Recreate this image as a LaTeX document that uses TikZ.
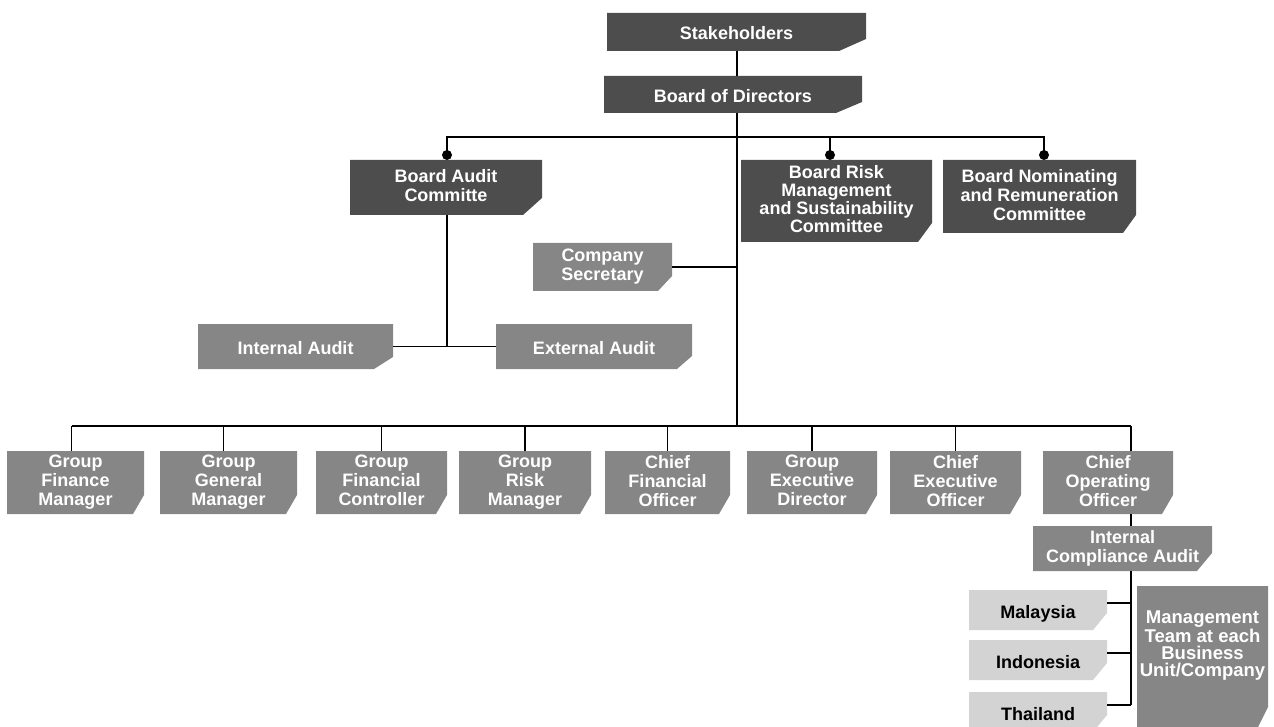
\documentclass[tikz,border=0pt]{standalone}
\usepackage{fontspec}
\setmainfont{Liberation Sans}
\usetikzlibrary{backgrounds}
\definecolor{darkbox}{HTML}{4D4D4D}
\definecolor{midbox}{HTML}{868686}
\definecolor{lightbox}{HTML}{D3D3D3}
\newcommand\bx[7][]{\node[box,#1,minimum width={#5pt-#3pt},minimum height={#6pt-#4pt}] (#2) at ({(#3+#5)/2},{(#4+#6)/2}) {#7};}
\newcommand\chf[4]{\fill[#2] (#1.north west) -- (#1.north east) -- ([yshift=#4]#1.south east) -- ([xshift=-#3]#1.south east) -- (#1.south west) -- cycle;}
\tikzset{
  box/.style={inner sep=0pt,outer sep=0pt,align=center,text=white,font=\bfseries\fontsize{18}{19}\selectfont,
    execute at begin node={\rule{0pt}{20pt}}, execute at end node={\rule[-4pt]{0pt}{4pt}}},
  ctry/.style={text=black},
  conn/.style={line width=1.2pt,black},
  dot/.style={circle,fill=black,inner sep=0pt,minimum size=10pt}
}
\begin{document}
\begin{tikzpicture}[x=1pt,y=-1pt]
\useasboundingbox (0,0) rectangle (1274,727);
\clip (0,0) rectangle (1274,727);
% nodes
\bx{stake}{607}{13}{866}{51}{Stakeholders}
\bx{board}{604}{76}{862}{113}{Board of Directors}
\bx{bac}{350}{160}{542}{215}{Board Audit\\Committe}
\bx[font=\bfseries\fontsize{18}{18.3}\selectfont]{brm}{741}{160}{932}{242}{Board Risk\\Management\\and Sustainability\\Committee}
\bx{bnr}{943}{160}{1136}{233}{Board Nominating\\and Remuneration\\Committee}
\bx{cosec}{533}{243}{672}{291}{Company\\Secretary}
\bx{ia}{198}{324}{393}{369}{Internal Audit}
\bx{ea}{496}{324}{692}{369}{External Audit}
\bx{gfm}{7}{451}{144}{514}{Group\\Finance\\Manager}
\bx{ggm}{160}{451}{297}{514}{Group\\General\\Manager}
\bx{gfc}{316}{451}{447}{514}{Group\\Financial\\Controller}
\bx{grm}{459}{451}{591}{514}{Group\\Risk\\Manager}
\bx{cfo}{605}{451}{730}{514}{Chief\\Financial\\Officer}
\bx{ged}{747}{451}{877}{514}{Group\\Executive\\Director}
\bx{ceo}{890}{451}{1021}{514}{Chief\\Executive\\Officer}
\bx{coo}{1043}{451}{1173}{514}{Chief\\Operating\\Officer}
\bx{ica}{1033}{526}{1212}{571}{Internal\\Compliance Audit}
\bx[ctry]{mal}{969}{590}{1107}{630}{Malaysia}
\bx[ctry]{ind}{969}{640}{1107}{680}{Indonesia}
\bx[ctry]{tha}{969}{692}{1107}{732}{Thailand}
\bx[font=\bfseries\fontsize{18.5}{17}\selectfont]{mgmt}{1137}{586}{1268}{705}{Management\\Team at each\\Business\\Unit/Company}
% shapes behind text
\begin{scope}[on background layer]
\chf{stake}{darkbox}{27pt}{12pt}
\chf{board}{darkbox}{26pt}{11pt}
\chf{bac}{darkbox}{19pt}{17pt}
\chf{brm}{darkbox}{14pt}{19pt}
\chf{bnr}{darkbox}{13pt}{18pt}
\chf{cosec}{midbox}{14pt}{15pt}
\chf{ia}{midbox}{19pt}{12pt}
\chf{ea}{midbox}{15pt}{13pt}
\foreach \n in {gfm,ggm,gfc,grm,cfo,ged,ceo,coo}{\chf{\n}{midbox}{11pt}{19pt}}
\chf{ica}{midbox}{15pt}{18pt}
\chf{mal}{lightbox}{14pt}{17pt}
\chf{ind}{lightbox}{14pt}{17pt}
\chf{tha}{lightbox}{14pt}{17pt}
\fill[midbox] (mgmt.north west) -- (mgmt.north east) -- ([yshift=-2pt]mgmt.south east)
  -- ([xshift=-15pt,yshift=-32pt]mgmt.south east) -- ([yshift=-32pt]mgmt.south west) -- cycle;
\end{scope}
% connector points
\coordinate (m) at (737,0);
\coordinate (busT) at (737,137);
\coordinate (busB) at (737,426);
\node[dot] (d1) at (447,155) {};
\node[dot] (d2) at (830,155) {};
\node[dot] (d3) at (1044,155) {};
\coordinate (cx) at (1131,0);
\coordinate (malS) at ([yshift=7pt]mal.east);
\coordinate (indS) at ([yshift=7pt]ind.east);
\coordinate (thaS) at ([yshift=7pt]tha.east);
% connectors
\draw[conn] (stake.south -| m) -- (board.north -| m);
\draw[conn] (board.south -| m) -- (busB);
\draw[conn] (d1.center) |- (busT) -| (d3.center);
\draw[conn] (d2.center) -- (d2 |- busT);
\draw[conn] (cosec.east) -- (cosec.east -| m);
\draw[conn] (bac.south -| d1) -- (d1 |- ia.east);
\draw[conn] (ia.east) -- (ea.west);
\coordinate (gfmT) at ([xshift=-4pt]gfm.north);
\coordinate (ggmT) at ([xshift=-5pt]ggm.north);
\draw[conn] (gfmT |- busB) -- (cx |- busB);
\draw[conn] (gfmT) -- (gfmT |- busB);
\draw[conn] (ggmT) -- (ggmT |- busB);
\foreach \n in {gfc,grm,cfo,ged,ceo}{\draw[conn] (\n.north) -- (\n.north |- busB);}
\draw[conn] (coo.north -| cx) -- (cx |- busB);
\draw[conn] (coo.south -| cx) -- (ica.north -| cx);
\draw[conn] (ica.south -| cx) -- (cx |- thaS);
\foreach \n in {malS,indS,thaS}{\draw[conn] (\n) -- (\n -| cx);}
\end{tikzpicture}
\end{document}
